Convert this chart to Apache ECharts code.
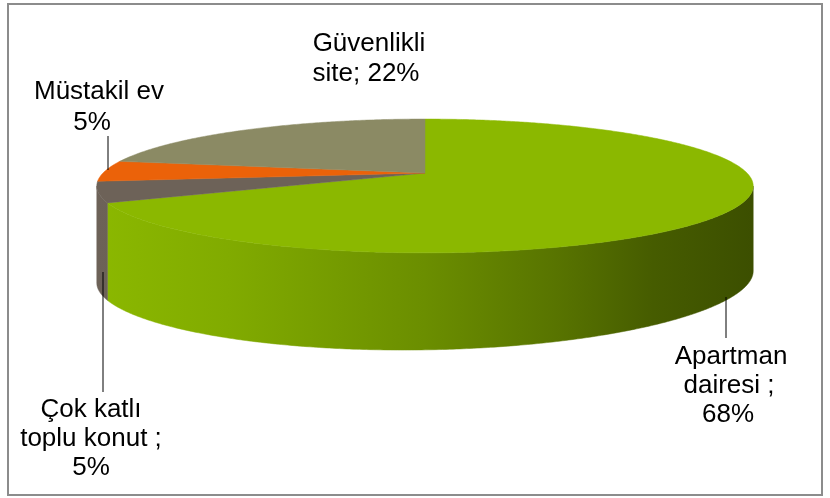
<!DOCTYPE html>
<html><head><meta charset="utf-8">
<script src="https://cdn.jsdelivr.net/npm/echarts@6/dist/echarts.min.js"></script>
<style>html,body{margin:0;padding:0;background:#fff}#c{width:830px;height:498px}</style>
</head><body><div id="c"></div>
<script>
// ---- data ----
const categories = ['Apartman dairesi', 'Çok katlı toplu konut', 'Müstakil ev', 'Güvenlikli site'];
const values = [68, 5, 5, 22];
const colors = ['#8bb800', '#6d6258', '#eb6209', '#8b8a64'];
const labelLines = [
  ['Apartman', 'dairesi ;', '68%'],
  ['Çok katlı', 'toplu konut ;', '5%'],
  ['Müstakil ev', '5%'],
  ['Güvenlikli', 'site; 22%']
];

// ---- 3D pie projection (layout) ----
const CX = 425, CY = 173, S = 322, K = 0.1937, V = 64.4;
const VIS0 = 101.2, VIS1 = 258.8; // visible outer wall range (deg, clockwise from back)
const rad = d => d * Math.PI / 180;
function rim(theta) {
  const t = rad(theta), c = Math.cos(t), s = Math.sin(t), d = 1 + K * c;
  return [CX + S * s / d, CY - V * c / d];
}
function depth(theta) {
  const t = rad(theta), c = Math.cos(t), s = Math.sin(t);
  return 90.8 + 6.2 * c * c - 6.1 * s;
}
const total = values.reduce((a, b) => a + b, 0);
const starts = [], ends = [];
values.reduce((acc, v, i) => { starts[i] = acc / total * 360; ends[i] = (acc + v) / total * 360; return acc + v; }, 0);

function shade(hex, f) {
  const n = parseInt(hex.slice(1), 16);
  const r = Math.round(((n >> 16) & 255) * f), g = Math.round(((n >> 8) & 255) * f), b = Math.round((n & 255) * f);
  return 'rgb(' + r + ',' + g + ',' + b + ')';
}
const shadeStops = [[0, 1.0], [0.2, 0.93], [0.5, 0.77], [0.7, 0.63], [0.85, 0.5], [1, 0.43]];
function wallFill(hex) {
  return new echarts.graphic.LinearGradient(97, 0, 752, 0,
    shadeStops.map(s => ({ offset: s[0], color: shade(hex, s[1]) })), true);
}

function arcPoints(a0, a1) {
  const pts = [];
  const n = Math.max(2, Math.ceil((a1 - a0) / 0.5));
  for (let j = 0; j <= n; j++) pts.push(a0 + (a1 - a0) * j / n);
  return pts;
}

function renderWall(params, api) {
  const i = params.dataIndex;
  const a0 = Math.max(starts[i], VIS0), a1 = Math.min(ends[i], VIS1);
  if (a1 <= a0) return null;
  const angs = arcPoints(a0, a1);
  const top = angs.map(rim);
  const bot = angs.map(t => { const p = rim(t); return [p[0], p[1] + depth(t)]; }).reverse();
  const f = wallFill(colors[i]);
  return { type: 'polygon', shape: { points: top.concat(bot) }, style: { fill: f, stroke: f, lineWidth: 0.5 } };
}
function renderTop(params, api) {
  const i = params.dataIndex;
  const pts = [[CX, CY]].concat(arcPoints(starts[i], ends[i]).map(rim));
  return { type: 'polygon', shape: { points: pts }, style: { fill: colors[i], stroke: colors[i], lineWidth: 0.5 } };
}

// ---- labels ----
const FONT = '26px "Liberation Sans", Arial, sans-serif';
const labelPos = [
  [[731, 357], [729, 386], [728, 415]],
  [[91, 410], [91, 439], [91, 468]],
  [[99, 92], [92, 123]],
  [[369, 44], [366, 74]]
];
const leaders = [
  [[726, 297], [726, 338]],
  [[103, 272], [103, 392]],
  [[108, 136], [108, 170]],
  null
];
const graphics = [{
  type: 'rect', shape: { x: 8, y: 4, width: 814, height: 491 },
  style: { fill: 'none', stroke: '#8c8c8c', lineWidth: 2 }, z: 10
}];
labelLines.forEach((lines, i) => {
  lines.forEach((txt, j) => {
    const p = labelPos[i][j];
    graphics.push({ type: 'text', x: p[0], y: p[1], z: 10,
      style: { text: txt, font: FONT, fill: '#000', align: 'center', verticalAlign: 'middle', textAlign: 'center', textVerticalAlign: 'middle' } });
  });
  if (leaders[i]) graphics.push({ type: 'line', z: 10,
    shape: { x1: leaders[i][0][0], y1: leaders[i][0][1], x2: leaders[i][1][0], y2: leaders[i][1][1] },
    style: { stroke: '#000', lineWidth: 1 } });
});

const chart = echarts.init(document.getElementById('c'), null, { renderer: 'canvas' });
chart.setOption({
  animation: false,
  backgroundColor: '#fff',
  series: [
    { type: 'custom', name: 'walls', coordinateSystem: 'none', renderItem: renderWall, data: values, z: 1, silent: true },
    { type: 'custom', name: 'tops', coordinateSystem: 'none', renderItem: renderTop, data: values, z: 2, silent: true }
  ],
  graphic: graphics
});
</script>
</body></html>
